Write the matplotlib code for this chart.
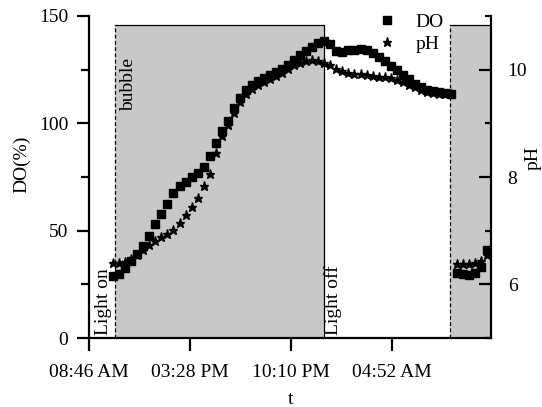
import numpy as np
import matplotlib
matplotlib.use("Agg")
import matplotlib.pyplot as plt
from matplotlib.ticker import AutoMinorLocator
from matplotlib.lines import Line2D

plt.rcParams["font.family"] = ["Liberation Serif", "DejaVu Serif"]
plt.rcParams["font.size"] = 14

# sample clock, hours after 08:46 AM
t = np.arange(1.6, 26.5, 0.4)

do = [29.0, 30.0, 32.6, 35.9, 39.0, 43.0, 47.5, 53.0, 57.8, 62.4,
      67.5, 70.8, 72.7, 75.0, 76.8, 79.6, 84.8, 90.8, 96.4, 101.0,
      107.0, 112.0, 115.5, 117.8, 119.7, 121.0, 122.5, 124.0, 125.3, 127.0,
      129.5, 131.8, 133.7, 135.5, 137.4, 138.3, 137.0, 133.7, 133.2, 134.0,
      134.0, 134.6, 134.0, 132.7, 131.0, 129.0, 126.7, 124.8, 122.5, 120.6,
      118.3, 117.0, 115.5, 115.0, 114.6, 114.1, 113.6, 30.3, 29.8, 29.3,
      30.3, 33.0, 41.0]

ph = [6.40, 6.40, 6.41, 6.47, 6.55, 6.64, 6.73, 6.81, 6.88, 6.94,
      7.02, 7.15, 7.29, 7.44, 7.60, 7.83, 8.05, 8.45, 8.76, 8.97,
      9.20, 9.40, 9.54, 9.64, 9.71, 9.77, 9.83, 9.88, 9.94, 10.02,
      10.08, 10.12, 10.16, 10.18, 10.17, 10.13, 10.08, 10.02, 9.98, 9.94,
      9.92, 9.92, 9.90, 9.88, 9.86, 9.86, 9.84, 9.81, 9.77, 9.72,
      9.67, 9.63, 9.59, 9.57, 9.55, 9.55, 9.54, 6.38, 6.38, 6.38,
      6.40, 6.43, 6.55]

tick_pos = [0, 6.7, 13.4, 20.1]
tick_labels = ["08:46 AM", "03:28 PM", "10:10 PM", "04:52 AM"]

bubble_on = 1.73
light_off = 15.6
light_on2 = 23.96
x_end = 26.65
box_top = 146

fig = plt.figure(figsize=(5.42, 4.07), dpi=100)
ax = fig.add_axes([0.1642, 0.1695, 0.7417, 0.7912])
ax2 = ax.twinx()

gray = "#c8c8c8"
ax.add_patch(plt.Rectangle((bubble_on, 0), light_off - bubble_on, box_top,
                           facecolor=gray, edgecolor="none", zorder=0))
ax.add_patch(plt.Rectangle((light_on2, 0), x_end - light_on2, box_top,
                           facecolor=gray, edgecolor="none", zorder=0))
ax.plot([bubble_on, bubble_on], [0, box_top], "k--", lw=0.9, dashes=(3, 2))
ax.plot([bubble_on, light_off, light_off], [box_top, box_top, 0], "k-", lw=0.9)
ax.plot([light_on2, light_on2], [0, box_top], "k--", lw=0.9, dashes=(3, 2))
ax.plot([light_on2, x_end], [box_top, box_top], "k-", lw=0.9)

ax.plot(t, do, "s", color="black", ms=6, ls="none", zorder=3)
ax2.plot(t, ph, "*", color="black", ms=6.5, ls="none", zorder=3)

ax.text(2.59, 130.4, "bubble", rotation=90, ha="center", va="top")
ax.text(0.93, 1.5, "Light on", rotation=90, ha="center", va="bottom")
ax.text(16.2, 1.5, "Light off", rotation=90, ha="center", va="bottom")

ax.set_xlim(0, x_end)
ax.set_ylim(0, 150)
ax2.set_ylim(5, 11)
ax.set_xticks(tick_pos)
ax.set_xticklabels(tick_labels)
ax.set_yticks([0, 50, 100, 150])
ax2.set_yticks([6, 8, 10])
ax.yaxis.set_minor_locator(AutoMinorLocator(2))
ax2.yaxis.set_minor_locator(AutoMinorLocator(2))

for a in (ax, ax2):
    a.spines["top"].set_visible(False)
    for s in a.spines.values():
        s.set_linewidth(1.6)
ax.spines["right"].set_visible(False)
ax2.spines["left"].set_visible(False)
ax2.spines["bottom"].set_visible(False)

ax.tick_params(axis="x", which="major", direction="out", length=9, width=1.6, pad=10)
ax.tick_params(axis="y", which="major", direction="out", length=9, width=1.6, pad=6)
ax.tick_params(axis="y", which="minor", direction="out", length=5.5, width=1.6)
ax2.tick_params(axis="y", which="major", direction="in", length=9, width=1.6, pad=12)
ax2.tick_params(axis="y", which="minor", direction="in", length=4.5, width=1.6)

ax.set_xlabel("t")
ax.set_ylabel("DO(%)")
ax2.set_ylabel("pH")
ax.xaxis.set_label_coords(0.502, -0.163)
ax.yaxis.set_label_coords(-0.147, 0.54)
ax2.yaxis.set_label_coords(1.083, 0.56)

handles = [Line2D([], [], marker="s", color="black", ls="none", ms=6),
           Line2D([], [], marker="*", color="black", ls="none", ms=6.5)]
ax.legend(handles, ["DO", "pH"], loc="upper left", bbox_to_anchor=(0.718, 1.008),
          frameon=False, handlelength=1.0, handletextpad=0.95, borderpad=0,
          labelspacing=0.2, borderaxespad=0)

fig.savefig("out.png", dpi=100)
